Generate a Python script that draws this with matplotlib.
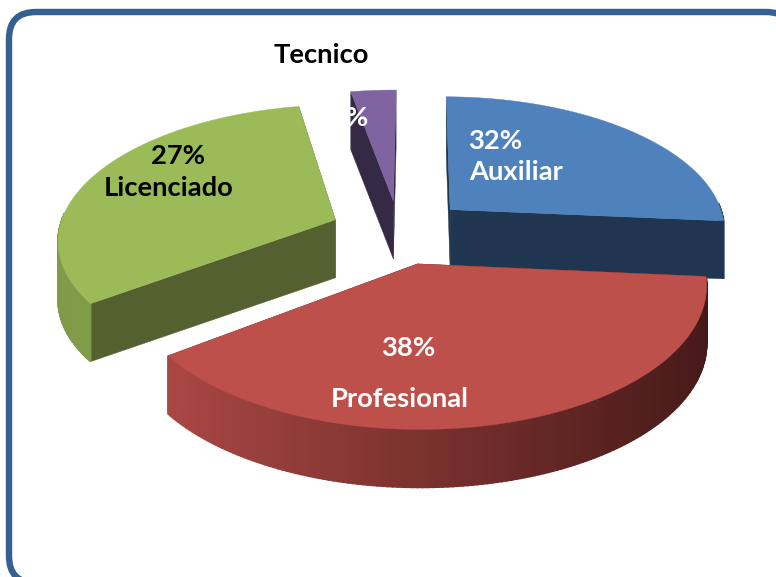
#!/usr/bin/python
import numpy as np
import matplotlib
matplotlib.use('agg')
import matplotlib.pyplot as plt
from matplotlib.patches import FancyBboxPatch, Polygon
from matplotlib.colors import to_rgb

categories = ['Auxiliar', 'Profesional', 'Licenciado', 'Tecnico']
pct_labels = ['32%', '38%', '27%', '3%']
# share of the circle each slice really covers in the picture (not the printed labels)
shares = [26.25, 38.53, 32.17, 3.05]

top_colors = ['#4F81BD', '#BE504C', '#9BBB59', '#8064A2']
side_colors = ['#1F3550', '#4F1E1C', '#546030', '#342A46']
rim_left = ['#1F3550', '#A94743', '#7F9A48', '#342A46']
rim_right = ['#1F3550', '#471A19', '#8FAB52', '#342A46']

start = 0.5
cx, cy = 399, 232
A, B, k = 277, 133.7, 0.135
depth = 58
explode = [0.255, 0.24, 0.25, 0.24]


def project(x, y, z=0.0):
    s = 1.0 / (1.0 - k * np.asarray(y))
    return np.column_stack([cx + A * np.asarray(x) * s, cy + B * np.asarray(y) * s + depth * z])


def mix(c1, c2, t):
    c1, c2 = np.array(to_rgb(c1)), np.array(to_rgb(c2))
    return c1 + (c2 - c1) * t


fig = plt.figure(figsize=(7.76, 5.77), dpi=100)
ax = fig.add_axes([0, 0, 1, 1])
ax.set_xlim(0, 776)
ax.set_ylim(577, 0)
ax.axis('off')

ax.add_patch(FancyBboxPatch((9, 12), 784, 571, boxstyle='round,pad=0,rounding_size=27',
                            fc='white', ec='#376092', lw=4.6, zorder=0))

edges = start + np.cumsum([0] + [p * 3.6 for p in shares])
order = [3, 0, 2, 1]
for i in order:
    t0, t1 = np.radians(edges[i]), np.radians(edges[i + 1])
    mid = (t0 + t1) / 2
    ox, oy = explode[i] * np.sin(mid), -explode[i] * np.cos(mid)
    th = np.linspace(t0, t1, 160)
    rx, ry = ox + np.sin(th), oy - np.cos(th)

    # the two cut faces
    for t in (t0, t1):
        ex, ey = ox + np.sin(t), oy - np.cos(t)
        wx, wy = np.array([ox, ex]), np.array([oy, ey])
        a = project(wx, wy)
        b = project(wx, wy, 1)
        ax.add_patch(Polygon(np.vstack([a, b[::-1]]), fc=side_colors[i], ec=side_colors[i], lw=0.3))

    # outer rim, only the part turned to the viewer
    top = project(rx, ry)
    low = project(rx, ry, 1)
    xmin, xmax = top[:, 0].min(), top[:, 0].max()
    for j in range(len(th) - 1):
        if np.cos((th[j] + th[j + 1]) / 2) > 0.05:
            continue
        f = (top[j, 0] - xmin) / max(xmax - xmin, 1)
        col = mix(rim_left[i], rim_right[i], f)
        quad = np.vstack([top[j:j + 2], low[j:j + 2][::-1]])
        ax.add_patch(Polygon(quad, fc=col, ec=col, lw=1.2))

    # top face
    apex = project(np.array([ox]), np.array([oy]))
    ax.add_patch(Polygon(np.vstack([apex, top]), fc=top_colors[i], ec=top_colors[i], lw=0.3))

font = dict(family='Lato', fontweight='bold', fontsize=19.7, ha='center', va='center')
ax.text(495, 141, pct_labels[0], color='white', **font)
ax.text(516, 172, categories[0], color='white', **font)
ax.text(408, 348, pct_labels[1], color='white', **font)
ax.text(400, 399, categories[1], color='white', **font)
ax.text(178, 156, pct_labels[2], color='black', **font)
ax.text(169, 188, categories[2], color='black', **font)
ax.text(349, 118, pct_labels[3], color='white', **font)
ax.text(321, 55, categories[3], color='black', **font)

fig.savefig('out.png', dpi=100)
